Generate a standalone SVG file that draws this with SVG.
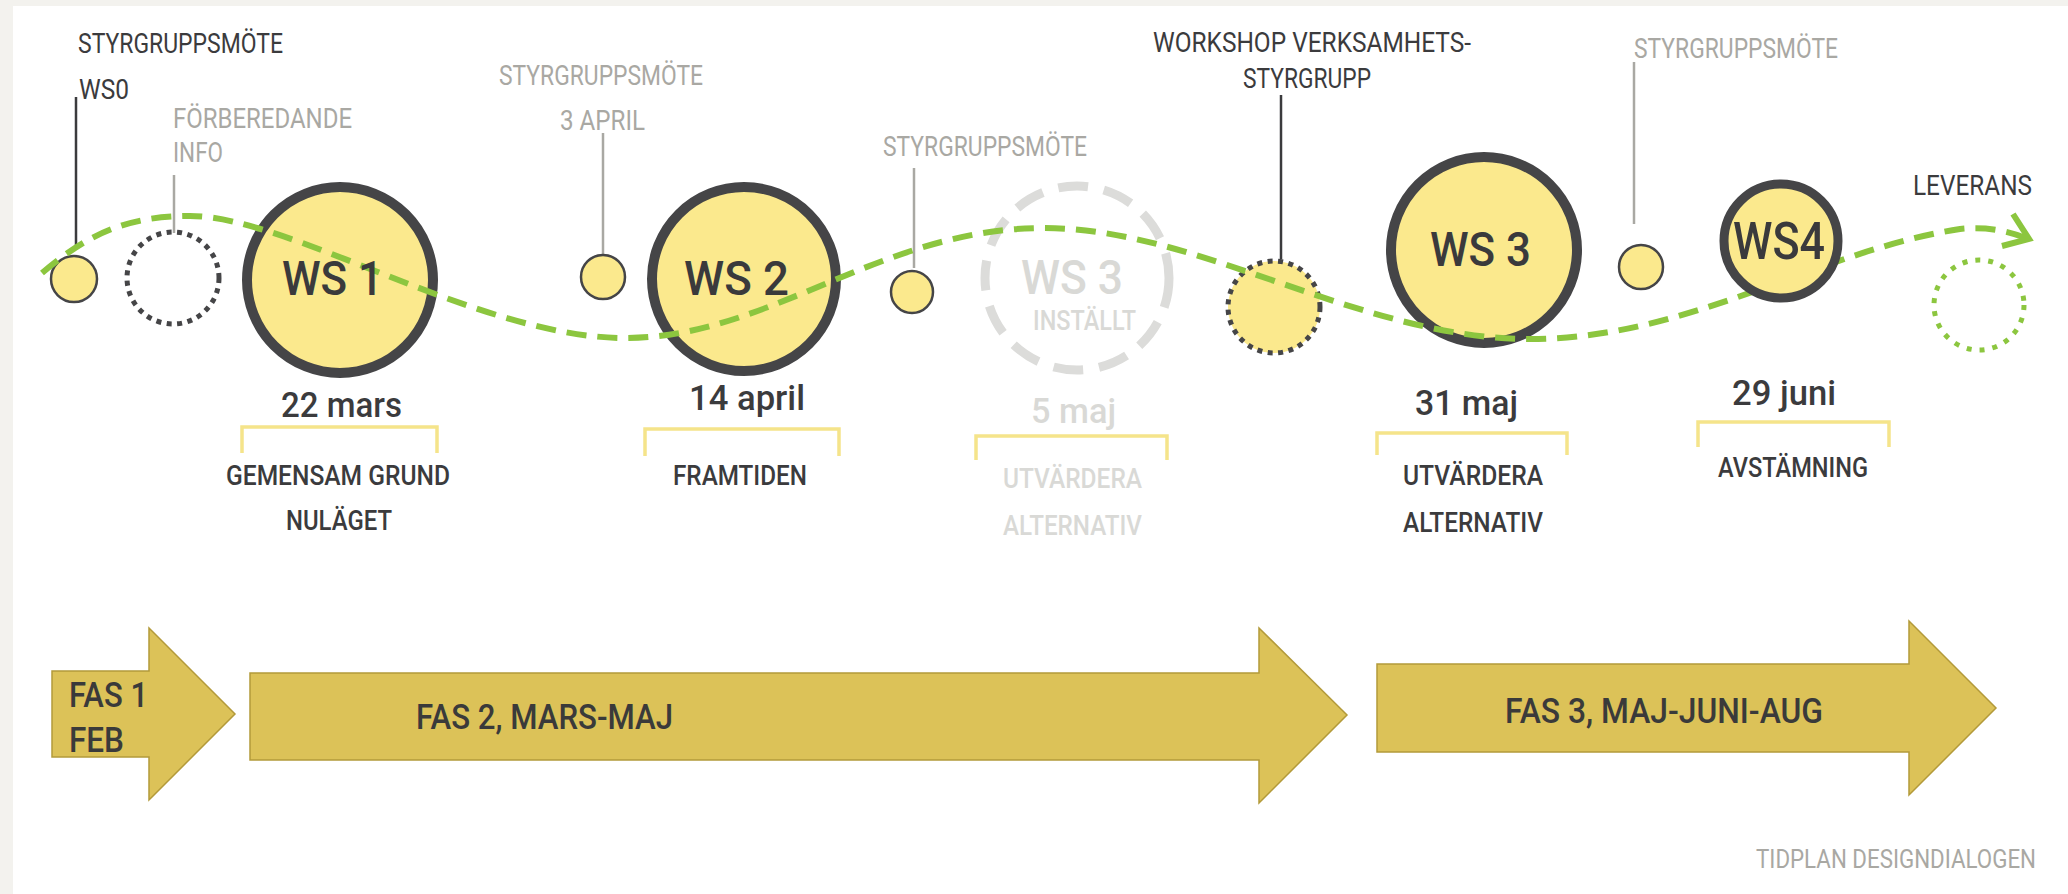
<svg xmlns="http://www.w3.org/2000/svg" width="2068" height="894" viewBox="0 0 2068 894">
<style>
text{font-family:Roboto,"Liberation Sans",sans-serif;}
.lbl{font-size:27px;font-weight:400;}
.dk{fill:#3b3b3d;}
.gr{fill:#a9a8a3;}
.lg{fill:#d9d9d6;}
.ws{font-size:49px;font-weight:500;fill:#3a3a3c;}
.date{font-size:35px;font-weight:500;}
.sub{font-size:27px;font-weight:500;}
.fas{font-size:35px;font-weight:500;fill:#3a3a3a;}
.ycirc{fill:#fbe98d;stroke:#454547;}
.big{stroke-width:10;}
.small{stroke-width:2.5;}
.dot{fill:none;stroke:#454547;stroke-width:5;stroke-dasharray:5 5.5;}
.lead-dk{stroke:#3b3b3d;stroke-width:2.5;fill:none;}
.lead-gr{stroke:#a9a8a3;stroke-width:2.5;fill:none;}
.brk{fill:none;stroke:#f5e48a;stroke-width:3.5;}
.arrow{fill:#dcc258;stroke:#b39a3a;stroke-width:1.5;}
.wave{fill:none;stroke:#8cc63f;stroke-width:6;stroke-dasharray:20 11;}
</style>
<rect x="0" y="0" width="2068" height="894" fill="#f3f2ee"/>
<rect x="13" y="6" width="2055" height="888" fill="#ffffff"/>

<g id="phases">
  <g id="fas1">
    <polygon class="arrow" points="52,671 149,671 149,628 235,714 149,800 149,757 52,757"/>
    <text class="fas" x="69" y="707" textLength="79" lengthAdjust="spacingAndGlyphs">FAS 1</text>
    <text class="fas" x="69" y="752" textLength="55" lengthAdjust="spacingAndGlyphs">FEB</text>
  </g>
  <g id="fas2">
    <polygon class="arrow" points="250,673 1259,673 1259,628 1347,715 1259,803 1259,760 250,760"/>
    <text class="fas" x="416" y="729" textLength="257" lengthAdjust="spacingAndGlyphs">FAS 2, MARS-MAJ</text>
  </g>
  <g id="fas3">
    <polygon class="arrow" points="1377,664 1909,664 1909,621 1996,708 1909,795 1909,752 1377,752"/>
    <text class="fas" x="1505" y="723" textLength="318" lengthAdjust="spacingAndGlyphs">FAS 3, MAJ-JUNI-AUG</text>
  </g>
</g>

<g id="connectors">
  <line class="lead-dk" x1="76" y1="97" x2="76" y2="250"/>
  <line class="lead-gr" x1="174" y1="175" x2="174" y2="233"/>
  <line class="lead-gr" x1="603" y1="133" x2="603" y2="256"/>
  <line class="lead-gr" x1="914" y1="168" x2="914" y2="268"/>
  <line class="lead-dk" x1="1281" y1="95" x2="1281" y2="259"/>
  <line class="lead-gr" x1="1634" y1="62" x2="1634" y2="224"/>
</g>

<g id="ws0-node">
  <text class="lbl dk" x="78" y="53" textLength="205" lengthAdjust="spacingAndGlyphs">STYRGRUPPSMÖTE</text>
  <text class="lbl dk" x="79" y="99" textLength="50" lengthAdjust="spacingAndGlyphs">WS0</text>
  <circle class="ycirc small" cx="74" cy="279" r="23"/>
</g>

<g id="forberedande-node">
  <text class="lbl gr" x="173" y="128" textLength="179" lengthAdjust="spacingAndGlyphs">FÖRBEREDANDE</text>
  <text class="lbl gr" x="173" y="162" textLength="50" lengthAdjust="spacingAndGlyphs">INFO</text>
  <circle class="dot" cx="173" cy="278" r="46"/>
</g>

<g id="ws1-node">
  <circle class="ycirc big" cx="340" cy="280" r="93"/>
  <text class="date dk" x="281" y="417" textLength="121" lengthAdjust="spacingAndGlyphs">22 mars</text>
  <path class="brk" d="M242 453 V427 H437 V453"/>
  <text class="sub dk" x="226" y="485" textLength="224" lengthAdjust="spacingAndGlyphs">GEMENSAM GRUND</text>
  <text class="sub dk" x="286" y="530" textLength="106" lengthAdjust="spacingAndGlyphs">NULÄGET</text>
</g>

<g id="sg-3april-node">
  <text class="lbl gr" x="499" y="85" textLength="204" lengthAdjust="spacingAndGlyphs">STYRGRUPPSMÖTE</text>
  <text class="lbl gr" x="560" y="130" textLength="85" lengthAdjust="spacingAndGlyphs">3 APRIL</text>
  <circle class="ycirc small" cx="603" cy="277" r="22"/>
</g>

<g id="ws2-node">
  <circle class="ycirc big" cx="744" cy="279" r="92"/>
  <text class="date dk" x="689" y="410" textLength="116" lengthAdjust="spacingAndGlyphs">14 april</text>
  <path class="brk" d="M645 456 V429 H839 V456"/>
  <text class="sub dk" x="673" y="485" textLength="134" lengthAdjust="spacingAndGlyphs">FRAMTIDEN</text>
</g>

<g id="sg-3-node">
  <text class="lbl gr" x="883" y="156" textLength="204" lengthAdjust="spacingAndGlyphs">STYRGRUPPSMÖTE</text>
  <circle class="ycirc small" cx="912" cy="292" r="21"/>
</g>

<g id="ws3-cancelled-node">
  <circle cx="1077" cy="278" r="92" fill="none" stroke="#dcdcda" stroke-width="9" stroke-dasharray="30 16"/>
  <text class="ws lg" x="1021" y="294" textLength="102" lengthAdjust="spacingAndGlyphs" style="fill:#d9d9d6">WS 3</text>
  <text class="sub lg" x="1033" y="330" textLength="103" lengthAdjust="spacingAndGlyphs">INSTÄLLT</text>
  <text class="date lg" x="1031" y="423" textLength="85" lengthAdjust="spacingAndGlyphs">5 maj</text>
  <path class="brk" d="M976 460 V436 H1167 V460"/>
  <text class="sub lg" x="1003" y="488" textLength="139" lengthAdjust="spacingAndGlyphs">UTVÄRDERA</text>
  <text class="sub lg" x="1003" y="535" textLength="139" lengthAdjust="spacingAndGlyphs">ALTERNATIV</text>
</g>

<g id="workshop-node">
  <text class="lbl dk" x="1153" y="52" textLength="318" lengthAdjust="spacingAndGlyphs">WORKSHOP VERKSAMHETS-</text>
  <text class="lbl dk" x="1243" y="88" textLength="128" lengthAdjust="spacingAndGlyphs">STYRGRUPP</text>
  <circle cx="1274" cy="307" r="46" fill="#fbe98d"/>
  <circle class="dot" cx="1274" cy="307" r="46"/>
</g>

<g id="ws3-node">
  <circle class="ycirc big" cx="1484" cy="250" r="93"/>
  <text class="date dk" x="1415" y="415" textLength="103" lengthAdjust="spacingAndGlyphs">31 maj</text>
  <path class="brk" d="M1377 455 V433 H1567 V455"/>
  <text class="sub dk" x="1403" y="485" textLength="140" lengthAdjust="spacingAndGlyphs">UTVÄRDERA</text>
  <text class="sub dk" x="1403" y="532" textLength="140" lengthAdjust="spacingAndGlyphs">ALTERNATIV</text>
</g>

<g id="sg-4-node">
  <text class="lbl gr" x="1634" y="58" textLength="204" lengthAdjust="spacingAndGlyphs">STYRGRUPPSMÖTE</text>
  <circle class="ycirc small" cx="1641" cy="267" r="22"/>
</g>

<g id="leverans-node">
  <text class="lbl dk" x="1913" y="195" textLength="119" lengthAdjust="spacingAndGlyphs">LEVERANS</text>
  <circle cx="1979" cy="305" r="45" fill="none" stroke="#8cc63f" stroke-width="5" stroke-dasharray="5 8"/>
</g>

<g id="wave">
  <path class="wave" d="M42 273 C90 232 130 216 190 216 C290 216 480 338 625 338 C770 338 880 228 1044 228 C1200 228 1360 339 1530 339 C1690 339 1820 250 1960 229 C1990 226 2010 232 2026 238"/>
  <polyline points="2013,214 2029,239 2002,246" fill="none" stroke="#8cc63f" stroke-width="6"/>
</g>

<g id="ws-labels">
  <text class="ws" x="282" y="295" textLength="101" lengthAdjust="spacingAndGlyphs">WS 1</text>
  <text class="ws" x="684" y="295" textLength="105" lengthAdjust="spacingAndGlyphs">WS 2</text>
  <text class="ws" x="1430" y="266" textLength="101" lengthAdjust="spacingAndGlyphs">WS 3</text>
</g>

<g id="ws4-node">
  <circle class="ycirc" cx="1781" cy="241" r="57" stroke-width="9"/>
  <text class="ws" x="1733" y="259" textLength="92" lengthAdjust="spacingAndGlyphs" style="font-size:52px">WS4</text>
  <text class="date dk" x="1732" y="405" textLength="104" lengthAdjust="spacingAndGlyphs">29 juni</text>
  <path class="brk" d="M1698 447 V422 H1889 V447"/>
  <text class="sub dk" x="1718" y="477" textLength="150" lengthAdjust="spacingAndGlyphs">AVSTÄMNING</text>
</g>

<text class="gr" x="1756" y="868" font-size="25" textLength="280" lengthAdjust="spacingAndGlyphs">TIDPLAN DESIGNDIALOGEN</text>
</svg>
